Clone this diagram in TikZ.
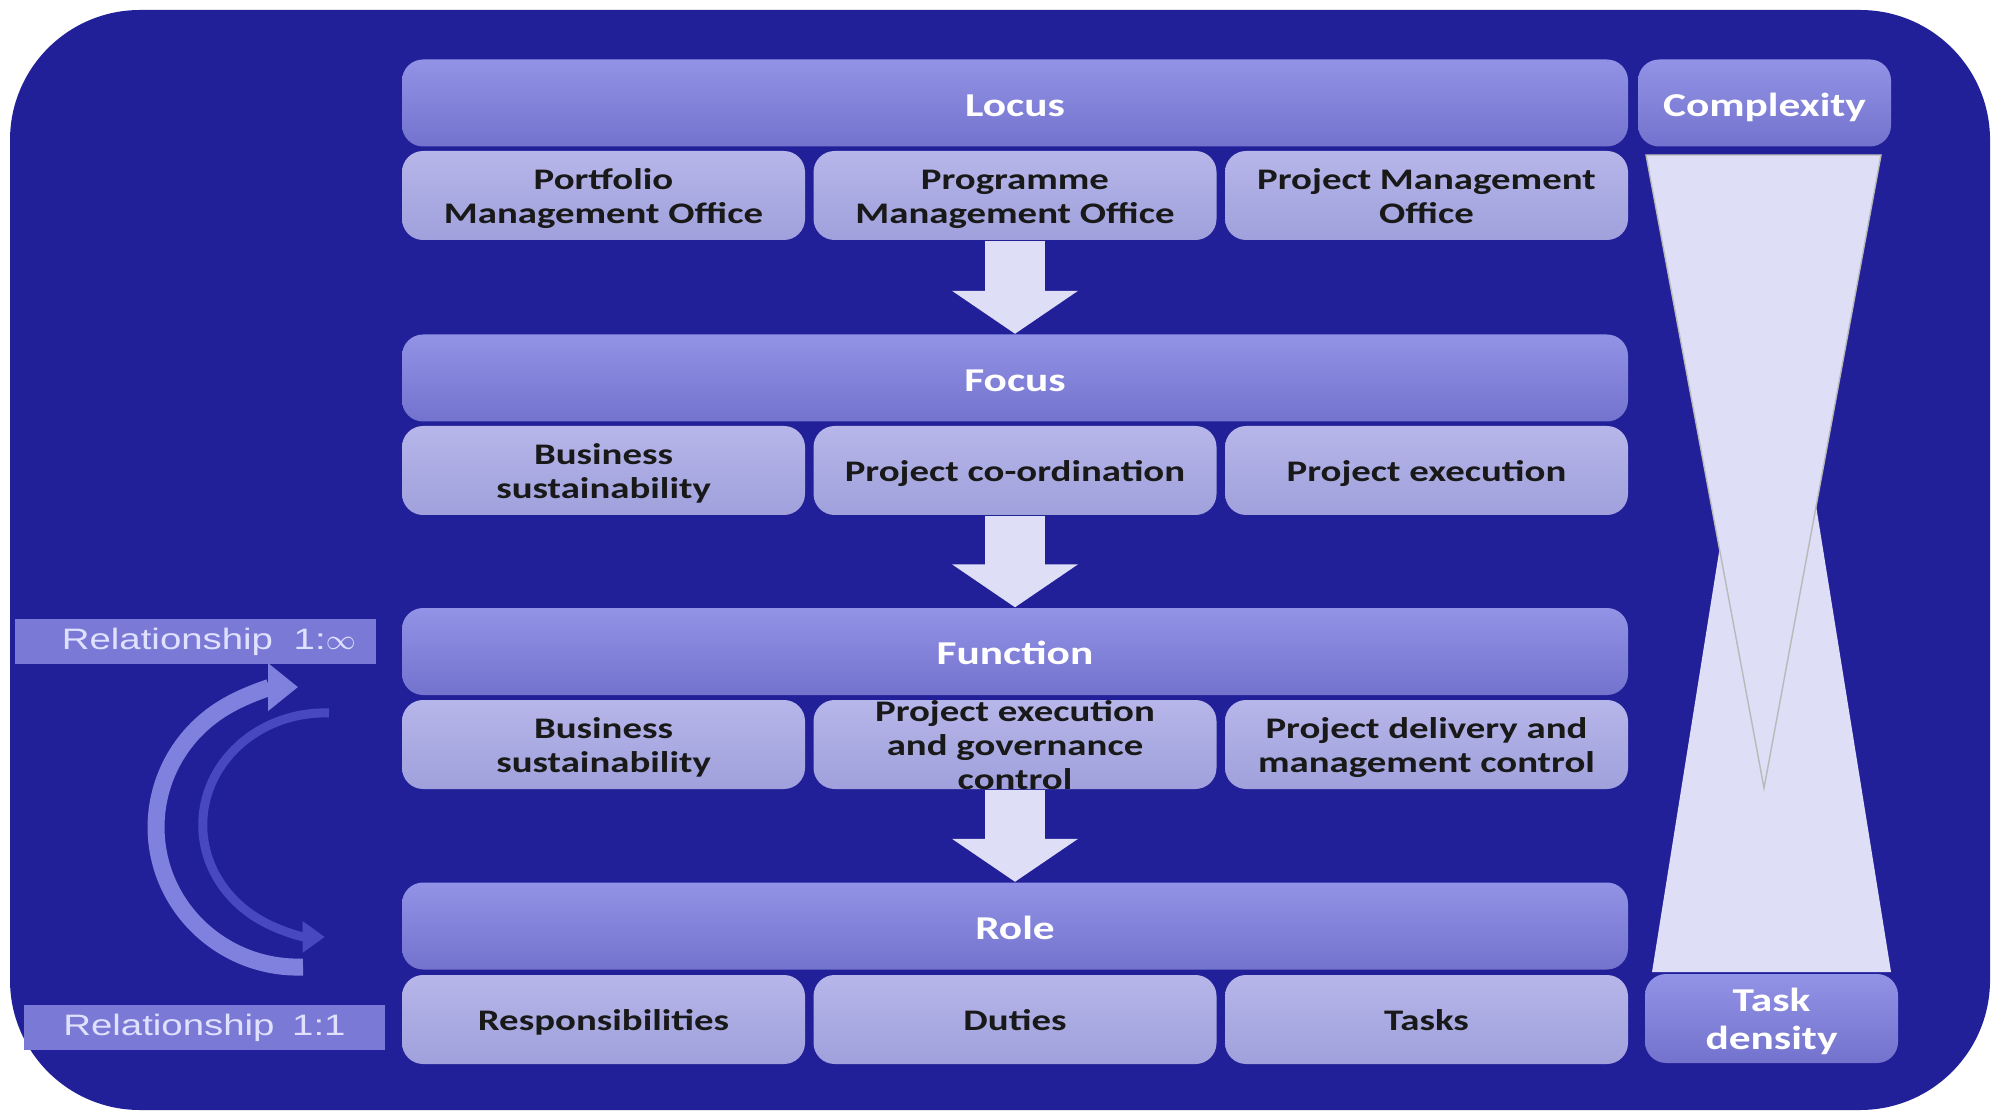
\documentclass[tikz,border=0pt]{standalone}
\usepackage{fontspec}
\setmainfont{Carlito}[FakeStretch=1.3]
\newfontfamily\relfont{Liberation Sans}[FakeStretch=1.3]
\usepackage{xcolor}
\usepackage{tikz}
\usetikzlibrary{arrows.meta, positioning, calc}

\definecolor{bgblue}{RGB}{34,32,152}
\definecolor{barblue}{RGB}{115,115,206}
\definecolor{barlight}{RGB}{146,146,230}
\definecolor{cellblue}{RGB}{160,160,220}
\definecolor{celllight}{RGB}{182,182,234}
\definecolor{glassw}{RGB}{222,222,246}
\definecolor{relblue}{RGB}{122,122,214}
\definecolor{arcouter}{RGB}{128,128,222}
\definecolor{arcinner}{RGB}{72,72,192}

\newcommand{\celltext}[1]{\raisebox{-0.38em}[0pt][0pt]{\begin{tabular}{@{}c@{}}#1\end{tabular}}}

\begin{document}
\begin{tikzpicture}[
  bar_box/.style={rectangle, rounded corners=6pt, top color=barlight, bottom color=barblue, minimum width=12.26cm, minimum height=0.87cm, inner sep=0pt, text height=0.76em, text depth=0pt, font=\fontsize{9.5}{11}\selectfont\bfseries, text=white},
  side_box/.style={bar_box, minimum width=2.53cm},
  cell_box/.style={rectangle, rounded corners=6pt, top color=celllight, bottom color=cellblue, minimum width=4.03cm, minimum height=0.89cm, inner sep=0pt, font=\fontsize{8.5}{9.7}\selectfont\bfseries, text=black!90},
  rel_box/.style={rectangle, fill=relblue, minimum width=3.61cm, minimum height=0.45cm, inner sep=0pt, font=\relfont\fontsize{8.4}{9}\selectfont, text=white!88!blue},
  flow_arrow/.style={draw=glassw, line width=0.6cm, -{Triangle[length=0.43cm, width=1.24cm]}},
  arc_outer/.style={draw=arcouter, line width=0.17cm, -{Triangle[length=0.3cm, width=0.46cm]}},
  arc_inner/.style={draw=arcinner, line width=0.09cm, -{Triangle[length=0.22cm, width=0.3cm]}}
]
  \useasboundingbox (0,0) rectangle (19.93,11.14);

  % Background panel
  \fill[bgblue, rounded corners=1.3cm] (0.1,0.04) rectangle (19.9,11.04);

  % Hourglass (task density below, complexity above)
  \fill[glassw] (16.52,1.42) -- (18.91,1.42) -- (17.71,8.88) -- cycle;
  \filldraw[fill=glassw, draw=gray!55, thin] (16.46,9.59) -- (18.81,9.59) -- (17.64,3.26) -- cycle;

  % Locus level
  \node (locus) [bar_box] at (10.15, 10.11) {Locus};
  \node (portfolio) [cell_box] at (6.035, 9.185) {\celltext{Portfolio\\Management Office}};
  \node (programme) [cell_box] at (10.15, 9.185) {\celltext{Programme\\Management Office}};
  \node (project_office) [cell_box] at (14.265, 9.185) {\celltext{Project Management\\Office}};

  % Focus level
  \node (focus) [bar_box] at (10.15, 7.36) {Focus};
  \node (sustain_a) [cell_box] at (6.035, 6.435) {\celltext{Business\\sustainability}};
  \node (coord) [cell_box] at (10.15, 6.435) {\celltext{Project co-ordination}};
  \node (execution) [cell_box] at (14.265, 6.435) {\celltext{Project execution}};

  % Function level
  \node (function) [bar_box] at (10.15, 4.625) {Function};
  \node (sustain_b) [cell_box] at (6.035, 3.695) {\celltext{Business\\sustainability}};
  \node (governance) [cell_box] at (10.15, 3.695) {\celltext{Project execution\\and governance\\control}};
  \node (delivery) [cell_box] at (14.265, 3.695) {\celltext{Project delivery and\\management control}};

  % Role level
  \node (role) [bar_box] at (10.15, 1.88) {Role};
  \node (resp) [cell_box] at (6.035, 0.945) {\celltext{Responsibilities}};
  \node (duties) [cell_box] at (10.15, 0.945) {\celltext{Duties}};
  \node (tasks) [cell_box] at (14.265, 0.945) {\celltext{Tasks}};

  % Right-hand scale
  \node (complexity) [side_box] at (17.645, 10.11) {Complexity};
  \node (density) [side_box, minimum height=0.89cm, text height=0pt, font=\fontsize{9.5}{10.8}\selectfont\bfseries] at (17.715, 0.955) {\celltext{Task\\density}};

  % Relationship labels
  \node (rel_many) [rel_box] at (1.955, 4.725) {\hspace{0.9em}Relationship\hspace{0.7em}1:$\infty$};
  \node (rel_one) [rel_box] at (2.045, 0.865) {Relationship\hspace{0.6em}1:1};

  % Flow arrows
  \draw[flow_arrow] (programme.south) -- (focus.north);
  \draw[flow_arrow] (coord.south) -- (function.north);
  \draw[flow_arrow] (governance.south) -- (role.north);

  % Cycle arrows
  \coordinate (outer_start) at (3.03,1.47);
  \coordinate (inner_start) at (3.29,4.01);
  \draw[arc_outer] (outer_start) arc[start angle=272, end angle=90, x radius=1.42cm, y radius=1.40cm];
  \draw[arc_inner] (inner_start) arc[start angle=88, end angle=270, x radius=1.22cm, y radius=1.12cm];

\end{tikzpicture}
\end{document}
